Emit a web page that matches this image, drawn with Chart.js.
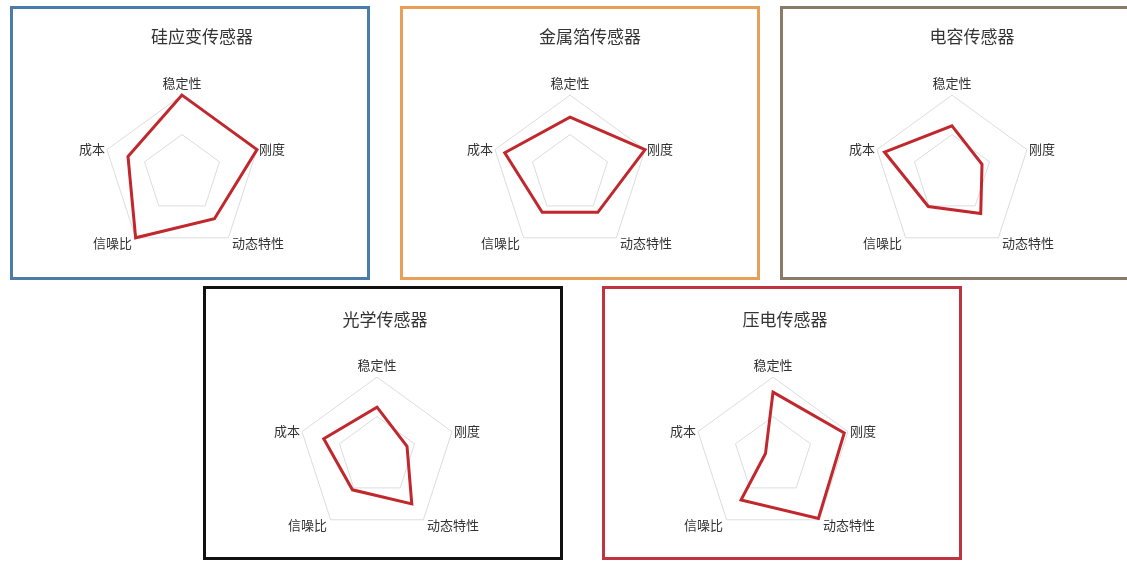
<!DOCTYPE html>
<html>
<head>
<meta charset="utf-8">
<script src="https://cdn.jsdelivr.net/npm/chart.js@4.4.1/dist/chart.umd.min.js"></script>
<style>
  html, body { margin: 0; padding: 0; background: #ffffff; }
  body { width: 1127px; height: 562px; position: relative; overflow: hidden; }
  .panel { position: absolute; box-sizing: border-box; border: 3px solid #000; background: #fff; overflow: hidden; }
  .panel canvas { position: absolute; left: 0; top: 0; }
  .ttl { position: absolute; transform: translate(-50%, -50%); white-space: nowrap;
         font-family: "Noto Sans CJK SC", "Noto Sans", sans-serif; font-size: 17px; color: #333; }
</style>
</head>
<body>
<script>
// ---- data ----
const axes = ['稳定性', '刚度', '动态特性', '信噪比', '成本'];
const titles = ['硅应变传感器', '金属箔传感器', '电容传感器', '光学传感器', '压电传感器'];
const siliconStrain = [10, 10, 7, 10, 7.2];
const metalFoil = [7.2, 10, 6, 6, 8.7];
const capacitive = [6.1, 4, 6.2, 5.1, 9];
const optical = [6.2, 4, 7.5, 5.3, 7.1];
const piezo = [8.1, 9.5, 9.8, 6.9, 1];
const seriesList = [siliconStrain, metalFoil, capacitive, optical, piezo];
const scaleMax = 10;
const scaleStep = 5;

// ---- layout / style ----
const panels = [
  { left: 10,  top: 6,   border: '#4a7ca8', tx: 189, ty: 26, padT: 68, padB: 18, padR: 16 },
  { left: 400, top: 6,   border: '#e8a058', tx: 187, ty: 26, padT: 68, padB: 18, padR: 20 },
  { left: 780, top: 6,   border: '#8a7a68', tx: 189, ty: 26, padT: 68, padB: 18, padR: 16 },
  { left: 203, top: 286, border: '#111111', tx: 179, ty: 29, padT: 70, padB: 16, padR: 12 },
  { left: 602, top: 286, border: '#c23342', tx: 180, ty: 29, padT: 70, padB: 16, padR: 18 }
];
const labelPadding = [12, 2, 6, 6, 2];
const PW = 360, PH = 274;
const CJK = '"Noto Sans CJK SC", "Noto Sans", sans-serif';

panels.forEach((p, i) => {
  const div = document.createElement('div');
  div.className = 'panel';
  div.style.left = p.left + 'px';
  div.style.top = p.top + 'px';
  div.style.width = PW + 'px';
  div.style.height = PH + 'px';
  div.style.borderColor = p.border;
  document.body.appendChild(div);
  const cw = PW - 6, ch = PH - 6;
  const cv = document.createElement('canvas');
  cv.width = cw; cv.height = ch;
  cv.style.width = cw + 'px'; cv.style.height = ch + 'px';
  div.appendChild(cv);
  const t = document.createElement('div');
  t.className = 'ttl';
  t.textContent = titles[i];
  t.style.left = p.tx + 'px';
  t.style.top = p.ty + 'px';
  div.appendChild(t);
  new Chart(cv, {
    type: 'radar',
    data: {
      labels: axes,
      datasets: [{
        data: seriesList[i],
        borderColor: '#c0282d',
        borderWidth: 3,
        backgroundColor: 'rgba(0,0,0,0)',
        fill: false,
        pointRadius: 0,
        pointHoverRadius: 0,
        tension: 0
      }]
    },
    options: {
      responsive: false,
      animation: false,
      layout: { padding: { left: 0, right: p.padR, top: p.padT, bottom: p.padB } },
      plugins: {
        legend: { display: false },
        tooltip: { enabled: false },
        title: { display: false }
      },
      scales: {
        r: {
          min: 0,
          max: scaleMax,
          ticks: { display: false, stepSize: scaleStep },
          grid: { color: '#dcdcdc', lineWidth: 1 },
          angleLines: { display: false },
          pointLabels: {
            color: '#333333',
            font: { family: CJK, size: 13, lineHeight: 0.01 },
            padding: (ctx) => labelPadding[ctx.index]
          }
        }
      }
    }
  });
});
</script>
</body>
</html>
